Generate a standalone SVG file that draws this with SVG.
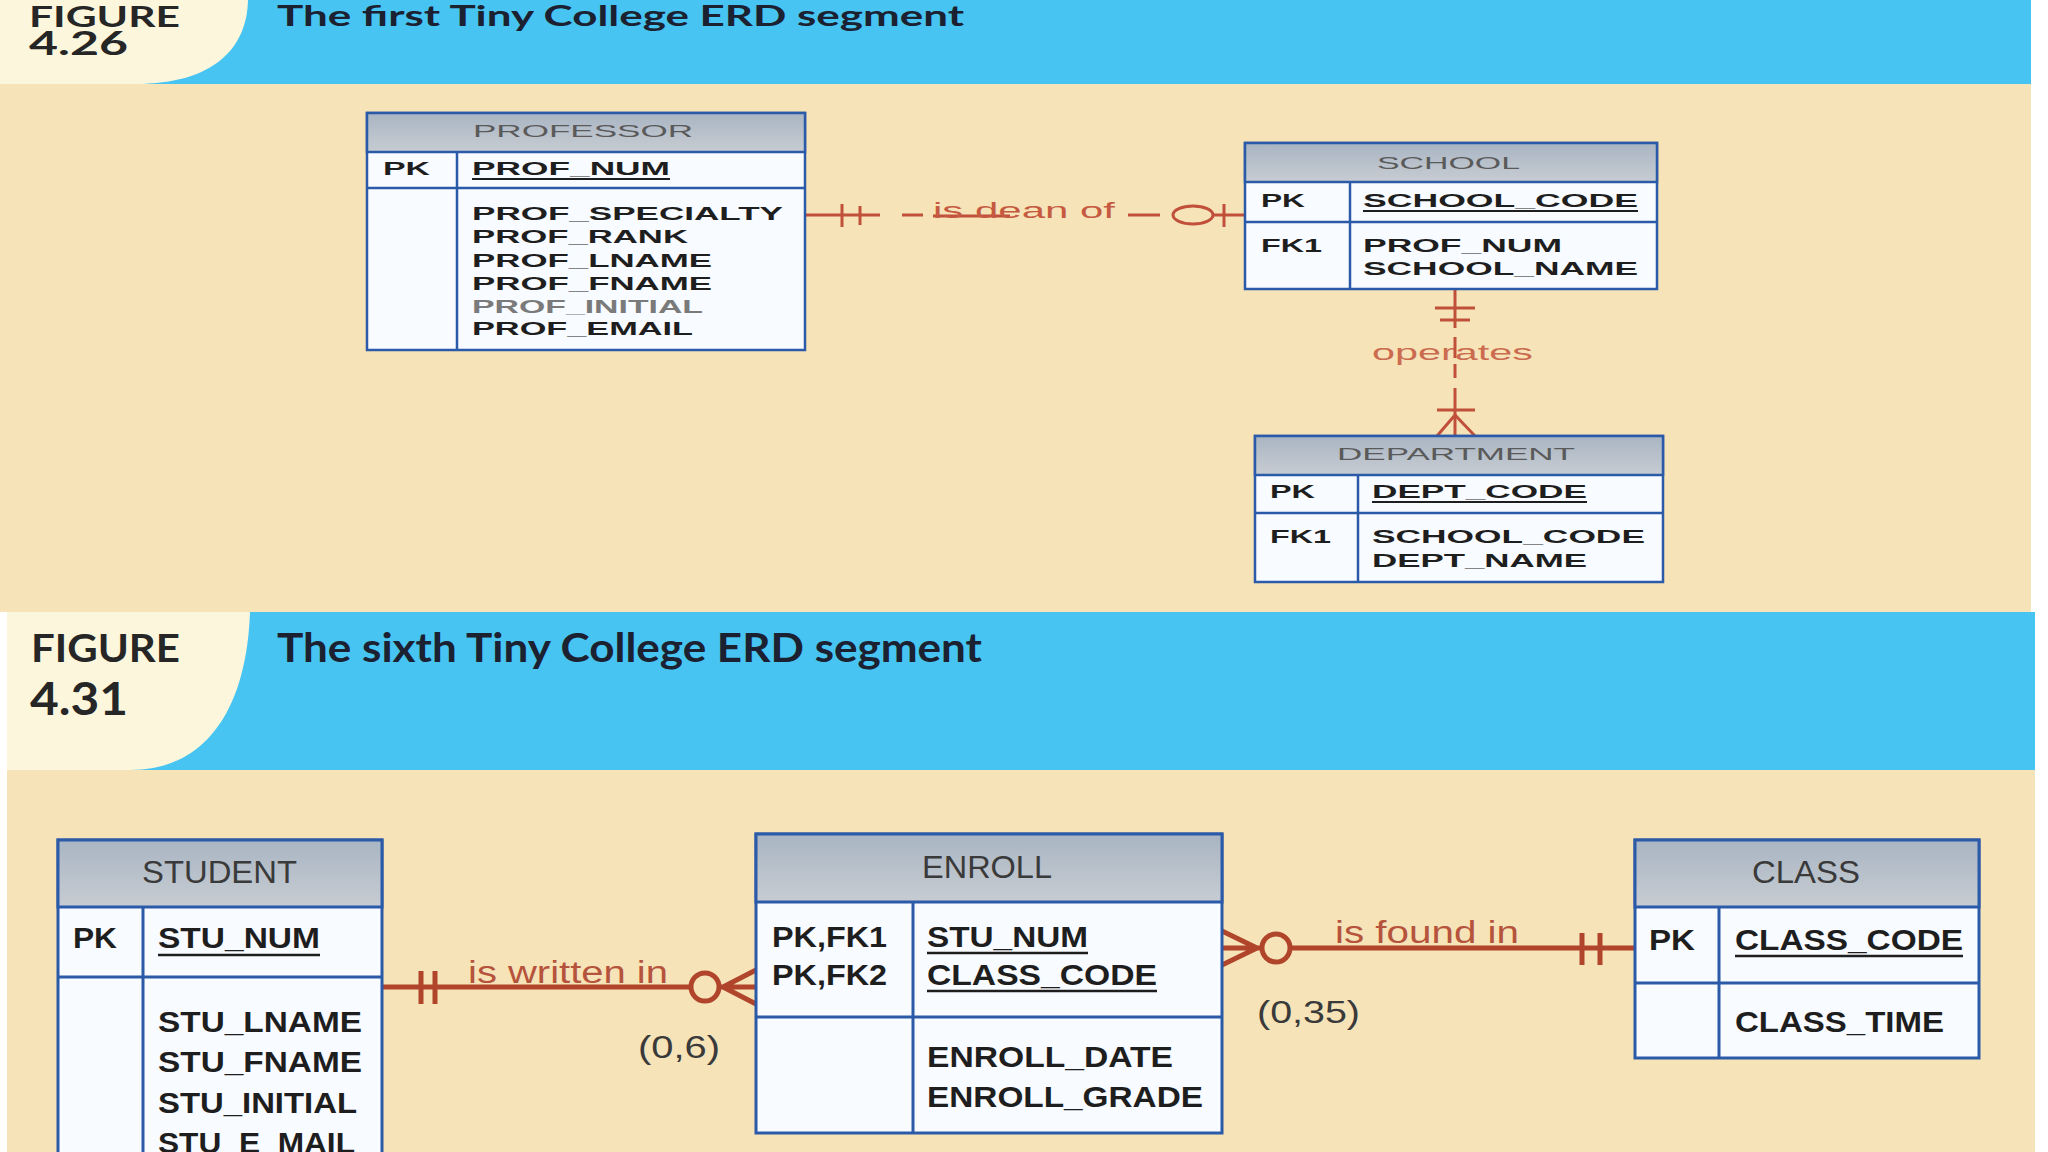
<svg xmlns="http://www.w3.org/2000/svg" width="2048" height="1152" viewBox="0 0 2048 1152">
<defs>
<linearGradient id="hdr" x1="0" y1="0" x2="0" y2="1">
<stop offset="0" stop-color="#a9b5c3"/>
<stop offset="1" stop-color="#c7ccd2"/>
</linearGradient>
<style>
.band{fill:#47c4f2}
.tab{fill:#fbf6dc}
.tan{fill:#f6e3b8}
.box{fill:#f8fbff;stroke:#2b5aa8}
.hdr{fill:url(#hdr);stroke:#2b5aa8}
.ln{stroke:#2b5aa8;fill:none}
.t1{font-family:"Liberation Sans",Arial,sans-serif;font-weight:bold;font-size:18px;fill:#1e1e1e}
.h1{font-family:"Liberation Sans",Arial,sans-serif;font-size:17px;fill:#5a5a5a}
.t2{font-family:"Liberation Sans",Arial,sans-serif;font-weight:bold;font-size:30px;fill:#1e1e1e}
.h2{font-family:"Liberation Sans",Arial,sans-serif;font-size:31px;fill:#3a3a3a}
.ul1{stroke:#1e1e1e;stroke-width:2}
.ul2{stroke:#1e1e1e;stroke-width:2.5}
.fig{font-family:Lato,"Open Sans",sans-serif;font-weight:bold;fill:#262626}
.ttl{font-family:Lato,"Open Sans",sans-serif;font-weight:bold;fill:#1b2130}
.c1{stroke:#c0503a;stroke-width:3;fill:none}
.c2{stroke:#b0452c;stroke-width:5;fill:none}
.rl1{font-family:"Liberation Sans",Arial,sans-serif;font-size:22px;fill:#c55a40}
.rl2{font-family:"Liberation Sans",Arial,sans-serif;font-size:31px;fill:#b5533c}
.card{font-family:"Liberation Sans",Arial,sans-serif;font-size:32px;fill:#3a3a3a}
</style>
</defs>
<rect width="2048" height="1152" fill="#ffffff"/>
<!-- top section -->
<rect class="band" x="0" y="0" width="2031" height="84"/>
<path class="tab" d="M0,0 H248 C247,48 214,84 135,84 H0 Z"/>
<rect class="tan" x="0" y="84" width="2031" height="528"/>
<text class="fig" x="29" y="27" font-size="29" textLength="151" lengthAdjust="spacingAndGlyphs">FIGURE</text>
<text class="fig" x="29" y="55" font-size="32" textLength="99" lengthAdjust="spacingAndGlyphs">4.26</text>
<text class="ttl" x="277" y="26" font-size="29" textLength="687" lengthAdjust="spacingAndGlyphs">The first Tiny College ERD segment</text>
<!-- bottom section -->
<rect class="band" x="7" y="612" width="2028" height="158"/>
<path class="tab" d="M7,612 H250 C247,700 212,770 130,770 H7 Z"/>
<rect class="tan" x="7" y="770" width="2028" height="382"/>
<text class="fig" x="31" y="662" font-size="38" textLength="149" lengthAdjust="spacingAndGlyphs">FIGURE</text>
<text class="fig" x="30" y="715" font-size="45" textLength="98" lengthAdjust="spacingAndGlyphs">4.31</text>
<text class="ttl" x="277" y="662" font-size="40" textLength="705" lengthAdjust="spacingAndGlyphs">The sixth Tiny College ERD segment</text>

<g id="connectors">
<!-- is dean of -->
<g id="rel-dean">
<line class="c1" x1="805" y1="215" x2="880" y2="215"/>
<line class="c1" x1="842" y1="204" x2="842" y2="227"/>
<line class="c1" x1="860" y1="206" x2="860" y2="225"/>
<line class="c1" x1="902" y1="215" x2="923" y2="215"/>
<line class="c1" x1="933" y1="216" x2="1010" y2="216"/>
<line class="c1" x1="1128" y1="215" x2="1160" y2="215"/>
<ellipse class="c1" cx="1193" cy="215" rx="20" ry="9"/>
<line class="c1" x1="1213" y1="215" x2="1245" y2="215"/>
<line class="c1" x1="1224" y1="204" x2="1224" y2="227"/>
<text class="rl1" x="933" y="218" textLength="182" lengthAdjust="spacingAndGlyphs">is dean of</text>
</g>
<!-- operates -->
<g id="rel-operates">
<line class="c1" x1="1455" y1="289" x2="1455" y2="328"/>
<line class="c1" x1="1435" y1="308" x2="1475" y2="308"/>
<line class="c1" x1="1440" y1="320" x2="1470" y2="320"/>
<line class="c1" x1="1455" y1="337" x2="1455" y2="358"/>
<line class="c1" x1="1455" y1="364" x2="1455" y2="378"/>
<line class="c1" x1="1455" y1="388" x2="1455" y2="436"/>
<line class="c1" x1="1437" y1="410" x2="1475" y2="410"/>
<path class="c1" d="M1437,436 L1455,415 L1475,436"/>
<text class="rl1" x="1372" y="360" textLength="161" lengthAdjust="spacingAndGlyphs" fill-opacity="0.9">operates</text>
</g>
<!-- is written in -->
<g id="rel-written">
<line class="c2" x1="382" y1="987" x2="690" y2="987"/>
<line class="c2" x1="421" y1="971" x2="421" y2="1004"/>
<line class="c2" x1="435" y1="971" x2="435" y2="1004"/>
<circle class="c2" cx="705" cy="987" r="14"/>
<path class="c2" d="M756,970 L723,987 L756,1004 M719,987 H756"/>
<text class="rl2" x="468" y="983" textLength="200" lengthAdjust="spacingAndGlyphs">is written in</text>
<text class="card" x="638" y="1058" textLength="82" lengthAdjust="spacingAndGlyphs">(0,6)</text>
</g>
<!-- is found in -->
<g id="rel-found">
<path class="c2" d="M1222,931 L1257,948 L1222,965 M1222,948 H1262"/>
<circle class="c2" cx="1276" cy="948" r="14"/>
<line class="c2" x1="1290" y1="948" x2="1635" y2="948"/>
<line class="c2" x1="1582" y1="933" x2="1582" y2="965"/>
<line class="c2" x1="1600" y1="933" x2="1600" y2="965"/>
<text class="rl2" x="1335" y="943" textLength="184" lengthAdjust="spacingAndGlyphs">is found in</text>
<text class="card" x="1257" y="1023" textLength="103" lengthAdjust="spacingAndGlyphs">(0,35)</text>
</g>
</g>

<g id="professor">
<rect class="box" x="367" y="113" width="438" height="237" stroke-width="2.5"/>
<rect class="hdr" x="367" y="113" width="438" height="39" stroke-width="2.5"/>
<line class="ln" x1="367" y1="188" x2="805" y2="188" stroke-width="2.5"/>
<line class="ln" x1="457" y1="152" x2="457" y2="350" stroke-width="2.5"/>
<text class="h1" x="473" y="137" textLength="220" lengthAdjust="spacingAndGlyphs">PROFESSOR</text>
<text class="t1" x="383" y="175" textLength="47" lengthAdjust="spacingAndGlyphs">PK</text>
<text class="t1" x="472" y="175" textLength="198" lengthAdjust="spacingAndGlyphs">PROF_NUM</text>
<line class="ul1" x1="472" y1="179" x2="670" y2="179"/>
<text class="t1" x="472" y="220" textLength="311" lengthAdjust="spacingAndGlyphs">PROF_SPECIALTY</text>
<text class="t1" x="472" y="243" textLength="216" lengthAdjust="spacingAndGlyphs">PROF_RANK</text>
<text class="t1" x="472" y="267" textLength="240" lengthAdjust="spacingAndGlyphs">PROF_LNAME</text>
<text class="t1" x="472" y="290" textLength="240" lengthAdjust="spacingAndGlyphs">PROF_FNAME</text>
<text class="t1" x="472" y="313" textLength="231" lengthAdjust="spacingAndGlyphs" style="fill:#7a7a7a">PROF_INITIAL</text>
<text class="t1" x="472" y="335" textLength="221" lengthAdjust="spacingAndGlyphs">PROF_EMAIL</text>
</g>

<g id="school">
<rect class="box" x="1245" y="143" width="412" height="146" stroke-width="2.5"/>
<rect class="hdr" x="1245" y="143" width="412" height="39" stroke-width="2.5"/>
<line class="ln" x1="1245" y1="222" x2="1657" y2="222" stroke-width="2.5"/>
<line class="ln" x1="1350" y1="182" x2="1350" y2="289" stroke-width="2.5"/>
<text class="h1" x="1377" y="169" textLength="143" lengthAdjust="spacingAndGlyphs">SCHOOL</text>
<text class="t1" x="1261" y="207" textLength="44" lengthAdjust="spacingAndGlyphs">PK</text>
<text class="t1" x="1363" y="207" textLength="275" lengthAdjust="spacingAndGlyphs">SCHOOL_CODE</text>
<line class="ul1" x1="1363" y1="211" x2="1638" y2="211"/>
<text class="t1" x="1261" y="252" textLength="61" lengthAdjust="spacingAndGlyphs">FK1</text>
<text class="t1" x="1363" y="252" textLength="199" lengthAdjust="spacingAndGlyphs">PROF_NUM</text>
<text class="t1" x="1363" y="275" textLength="275" lengthAdjust="spacingAndGlyphs">SCHOOL_NAME</text>
</g>

<g id="department">
<rect class="box" x="1255" y="436" width="408" height="146" stroke-width="2.5"/>
<rect class="hdr" x="1255" y="436" width="408" height="39" stroke-width="2.5"/>
<line class="ln" x1="1255" y1="513" x2="1663" y2="513" stroke-width="2.5"/>
<line class="ln" x1="1358" y1="475" x2="1358" y2="582" stroke-width="2.5"/>
<text class="h1" x="1337" y="460" textLength="238" lengthAdjust="spacingAndGlyphs">DEPARTMENT</text>
<text class="t1" x="1270" y="498" textLength="45" lengthAdjust="spacingAndGlyphs">PK</text>
<text class="t1" x="1372" y="498" textLength="215" lengthAdjust="spacingAndGlyphs">DEPT_CODE</text>
<line class="ul1" x1="1372" y1="502" x2="1587" y2="502"/>
<text class="t1" x="1270" y="543" textLength="61" lengthAdjust="spacingAndGlyphs">FK1</text>
<text class="t1" x="1372" y="543" textLength="273" lengthAdjust="spacingAndGlyphs">SCHOOL_CODE</text>
<text class="t1" x="1372" y="567" textLength="215" lengthAdjust="spacingAndGlyphs">DEPT_NAME</text>
</g>

<g id="student">
<rect class="box" x="58" y="840" width="324" height="330" stroke-width="3"/>
<rect class="hdr" x="58" y="840" width="324" height="67" stroke-width="3"/>
<line class="ln" x1="58" y1="977" x2="382" y2="977" stroke-width="3"/>
<line class="ln" x1="143" y1="907" x2="143" y2="1170" stroke-width="3"/>
<text class="h2" x="142" y="883" textLength="155" lengthAdjust="spacingAndGlyphs">STUDENT</text>
<text class="t2" x="73" y="948" textLength="44" lengthAdjust="spacingAndGlyphs">PK</text>
<text class="t2" x="158" y="948" textLength="162" lengthAdjust="spacingAndGlyphs">STU_NUM</text>
<line class="ul2" x1="158" y1="955" x2="320" y2="955"/>
<text class="t2" x="158" y="1032" textLength="204" lengthAdjust="spacingAndGlyphs">STU_LNAME</text>
<text class="t2" x="158" y="1072" textLength="204" lengthAdjust="spacingAndGlyphs">STU_FNAME</text>
<text class="t2" x="158" y="1113" textLength="199" lengthAdjust="spacingAndGlyphs">STU_INITIAL</text>
<text class="t2" x="158" y="1153" textLength="197" lengthAdjust="spacingAndGlyphs">STU_E_MAIL</text>
</g>

<g id="enroll">
<rect class="box" x="756" y="834" width="466" height="299" stroke-width="3"/>
<rect class="hdr" x="756" y="834" width="466" height="68" stroke-width="3"/>
<line class="ln" x1="756" y1="1017" x2="1222" y2="1017" stroke-width="3"/>
<line class="ln" x1="913" y1="902" x2="913" y2="1133" stroke-width="3"/>
<text class="h2" x="922" y="878" textLength="130" lengthAdjust="spacingAndGlyphs">ENROLL</text>
<text class="t2" x="772" y="947" textLength="115" lengthAdjust="spacingAndGlyphs">PK,FK1</text>
<text class="t2" x="772" y="985" textLength="115" lengthAdjust="spacingAndGlyphs">PK,FK2</text>
<text class="t2" x="927" y="947" textLength="161" lengthAdjust="spacingAndGlyphs">STU_NUM</text>
<line class="ul2" x1="927" y1="953" x2="1088" y2="953"/>
<text class="t2" x="927" y="985" textLength="230" lengthAdjust="spacingAndGlyphs">CLASS_CODE</text>
<line class="ul2" x1="927" y1="991" x2="1157" y2="991"/>
<text class="t2" x="927" y="1067" textLength="246" lengthAdjust="spacingAndGlyphs">ENROLL_DATE</text>
<text class="t2" x="927" y="1107" textLength="276" lengthAdjust="spacingAndGlyphs">ENROLL_GRADE</text>
</g>

<g id="class">
<rect class="box" x="1635" y="840" width="344" height="218" stroke-width="3"/>
<rect class="hdr" x="1635" y="840" width="344" height="67" stroke-width="3"/>
<line class="ln" x1="1635" y1="983" x2="1979" y2="983" stroke-width="3"/>
<line class="ln" x1="1719" y1="907" x2="1719" y2="1058" stroke-width="3"/>
<text class="h2" x="1752" y="883" textLength="108" lengthAdjust="spacingAndGlyphs">CLASS</text>
<text class="t2" x="1649" y="950" textLength="46" lengthAdjust="spacingAndGlyphs">PK</text>
<text class="t2" x="1735" y="950" textLength="228" lengthAdjust="spacingAndGlyphs">CLASS_CODE</text>
<line class="ul2" x1="1735" y1="956" x2="1963" y2="956"/>
<text class="t2" x="1735" y="1032" textLength="209" lengthAdjust="spacingAndGlyphs">CLASS_TIME</text>
</g>
</svg>
